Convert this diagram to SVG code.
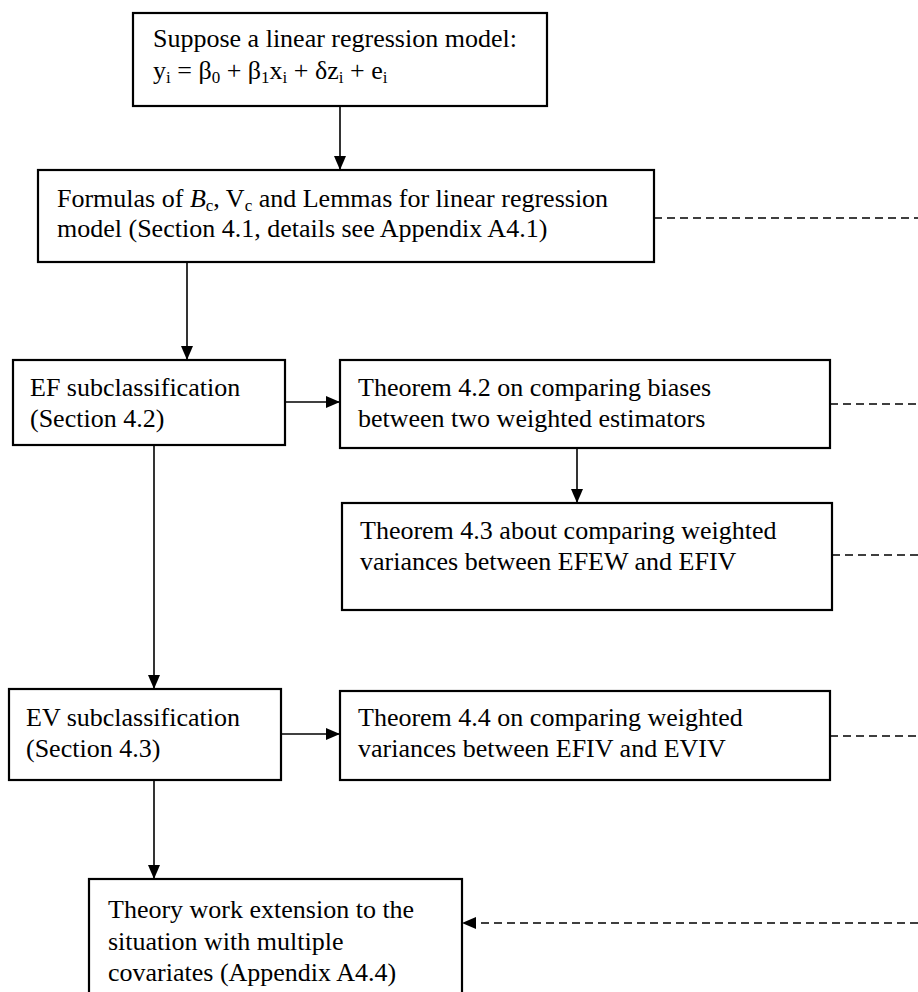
<svg xmlns="http://www.w3.org/2000/svg" width="918" height="992" viewBox="0 0 918 992">
<defs>
<style>
.box{fill:#fff;stroke:#000;stroke-width:2.2}
.t{font-family:"Liberation Serif","Times New Roman",serif;font-size:26px;fill:#000}
.s{font-size:17px}
.ln{stroke:#000;stroke-width:1.6;fill:none}
.dash{stroke:#000;stroke-width:1.6;fill:none;stroke-dasharray:8 5}
</style>
<marker id="ah" viewBox="0 0 14 12" refX="14" refY="6" markerWidth="14" markerHeight="12" markerUnits="userSpaceOnUse" orient="auto">
<path d="M0,0 L14,6 L0,12 Z" fill="#000"/>
</marker>
</defs>
<rect width="918" height="992" fill="#fff"/>
<g id="connectors">
<line class="ln" x1="340" y1="106" x2="340" y2="170" marker-end="url(#ah)"/>
<line class="dash" x1="654" y1="218" x2="918" y2="218"/>
<line class="ln" x1="187" y1="262" x2="187" y2="360" marker-end="url(#ah)"/>
<line class="ln" x1="285" y1="402" x2="340" y2="402" marker-end="url(#ah)"/>
<line class="dash" x1="830" y1="404" x2="918" y2="404"/>
<line class="ln" x1="577" y1="448" x2="577" y2="503" marker-end="url(#ah)"/>
<line class="dash" x1="832" y1="555" x2="918" y2="555"/>
<line class="ln" x1="154" y1="445" x2="154" y2="689" marker-end="url(#ah)"/>
<line class="ln" x1="281" y1="734" x2="340" y2="734" marker-end="url(#ah)"/>
<line class="dash" x1="830" y1="736" x2="918" y2="736"/>
<line class="ln" x1="154" y1="780" x2="154" y2="879" marker-end="url(#ah)"/>
<line class="dash" x1="918" y1="923" x2="462" y2="923" marker-end="url(#ah)"/>
</g>
<g id="n1">
<rect class="box" x="133" y="13" width="414" height="93"/>
<text class="t" x="153" y="47">Suppose a linear regression model:</text>
<text class="t" x="153" y="79">y<tspan class="s" dy="4">i</tspan><tspan dy="-4"> = β</tspan><tspan class="s" dy="4">0</tspan><tspan dy="-4"> + β</tspan><tspan class="s" dy="4">1</tspan><tspan dy="-4">x</tspan><tspan class="s" dy="4">i</tspan><tspan dy="-4"> + δz</tspan><tspan class="s" dy="4">i</tspan><tspan dy="-4"> + e</tspan><tspan class="s" dy="4">i</tspan></text>
</g>
<g id="n2">
<rect class="box" x="38" y="170" width="616" height="92"/>
<text class="t" x="57" y="207">Formulas of <tspan font-style="italic">B</tspan><tspan class="s" dy="4">c</tspan><tspan dy="-4">, V</tspan><tspan class="s" dy="4">c</tspan><tspan dy="-4"> and Lemmas for linear regression</tspan></text>
<text class="t" x="57" y="237">model (Section 4.1, details see Appendix A4.1)</text>
</g>
<g id="n3">
<rect class="box" x="13" y="360" width="272" height="85"/>
<text class="t" x="30" y="396">EF subclassification</text>
<text class="t" x="30" y="427">(Section 4.2)</text>
</g>
<g id="n4">
<rect class="box" x="340" y="360" width="490" height="88"/>
<text class="t" x="358" y="396">Theorem 4.2 on comparing biases</text>
<text class="t" x="358" y="427">between two weighted estimators</text>
</g>
<g id="n5">
<rect class="box" x="342" y="503" width="490" height="107"/>
<text class="t" x="360" y="539">Theorem 4.3 about comparing weighted</text>
<text class="t" x="360" y="570">variances between EFEW and EFIV</text>
</g>
<g id="n6">
<rect class="box" x="9" y="689" width="272" height="91"/>
<text class="t" x="26" y="726">EV subclassification</text>
<text class="t" x="26" y="757">(Section 4.3)</text>
</g>
<g id="n7">
<rect class="box" x="340" y="691" width="490" height="89"/>
<text class="t" x="358" y="726">Theorem 4.4 on comparing weighted</text>
<text class="t" x="358" y="757">variances between EFIV and EVIV</text>
</g>
<g id="n8">
<rect class="box" x="89" y="879" width="373" height="130"/>
<text class="t" x="108" y="918">Theory work extension to the</text>
<text class="t" x="108" y="950">situation with multiple</text>
<text class="t" x="108" y="981">covariates (Appendix A4.4)</text>
</g>
</svg>
